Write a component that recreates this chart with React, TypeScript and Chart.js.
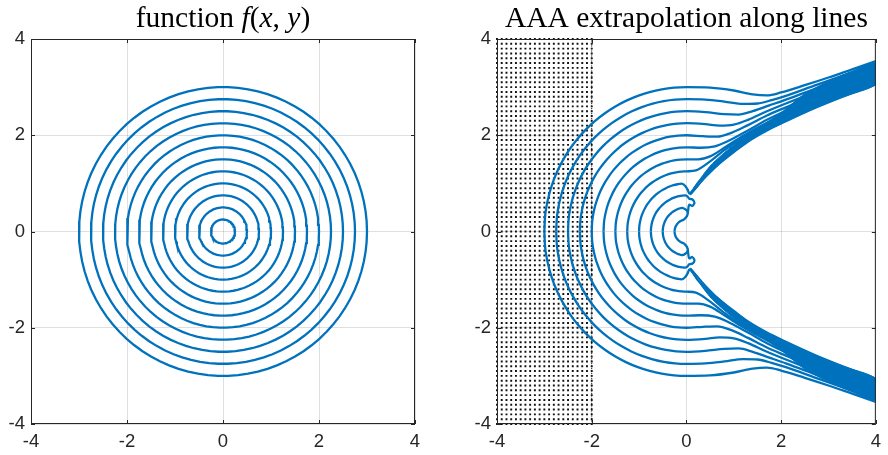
import React, { useEffect, useRef } from "react";
import { Chart, registerables } from "chart.js";
Chart.register(...registerables);

// ---------- data ----------
const TICKS = [-4, -2, 0, 2, 4];
// contour levels (circle radii) of f(x,y)
const LEVELS = [0.25, 0.5, 0.75, 1.0, 1.25, 1.5, 1.75, 2.0, 2.25, 2.5, 2.75, 3.0];

const LEFT_TITLE = [
  { t: "function ", i: false },
  { t: "f", i: true },
  { t: "(", i: false },
  { t: "x", i: true },
  { t: ", ", i: false },
  { t: "y", i: true },
  { t: ")", i: false },
];
const RIGHT_TITLE = [{ t: "AAA extrapolation along lines", i: false }];

// sample grid (dotted region)
const SAMPLE_X = [-4, -3.9, -3.8, -3.7, -3.6, -3.5, -3.4, -3.3, -3.2, -3.1, -3, -2.9, -2.8, -2.7, -2.6, -2.5, -2.4, -2.3, -2.2, -2.1, -2];
const SAMPLE_Y = [
  -4, -3.9, -3.8, -3.7, -3.6, -3.5, -3.4, -3.3, -3.2, -3.1, -3, -2.9, -2.8, -2.7, -2.6, -2.5, -2.4, -2.3, -2.2, -2.1,
  -2, -1.9, -1.8, -1.7, -1.6, -1.5, -1.4, -1.3, -1.2, -1.1, -1, -0.9, -0.8, -0.7, -0.6, -0.5, -0.4, -0.3, -0.2, -0.1,
  0, 0.1, 0.2, 0.3, 0.4, 0.5, 0.6, 0.7, 0.8, 0.9, 1, 1.1, 1.2, 1.3, 1.4, 1.5, 1.6, 1.7, 1.8, 1.9,
  2, 2.1, 2.2, 2.3, 2.4, 2.5, 2.6, 2.7, 2.8, 2.9, 3, 3.1, 3.2, 3.3, 3.4, 3.5, 3.6, 3.7, 3.8, 3.9, 4,
];

// right panel: upper-half continuations (x >= 0) of each extrapolated contour
const C_LINK = [[-0.02, 0.46], [0.03, 0.4], [0.01, 0.32], [-0.05, 0.25]];
const TAIL_075 = [[0.02, 0.73], [0.06, 0.68], [0.12, 0.67], [0.17, 0.6], [0.12, 0.53], [0.06, 0.56], [0.04, 0.47], [0.03, 0.38]];
const TAIL_100 = [[-0.02, 0.94], [0.03, 0.86], [0.06, 0.79], [0.25, 1.02], [0.5, 1.26], [0.7, 1.42], [1.0, 1.65], [1.3, 1.87], [1.7, 2.1], [2.1, 2.29], [2.7, 2.56], [3.3, 2.8], [4, 3.06]];
const SPIKE_1 = [[0.08, 0.76], [0.4, 1.12], [0.8, 1.5], [1.2, 1.8], [1.7, 2.12], [2.1, 2.31], [2.7, 2.58], [3.3, 2.82], [4, 3.08]];
const SPIKE_2 = [[0.1, 0.78], [0.5, 1.24], [0.9, 1.6], [1.3, 1.9], [1.7, 2.16], [2.1, 2.34], [2.7, 2.61], [3.3, 2.85], [4, 3.1]];
const TAIL_125 = [[0.2, 1.27], [0.45, 1.42], [0.8, 1.69], [1.2, 1.96], [1.7, 2.2], [2.1, 2.37], [2.7, 2.63], [3.3, 2.87], [4, 3.13]];
const TAIL_150 = [[0.25, 1.5], [0.5, 1.56], [0.8, 1.74], [1.2, 1.99], [1.7, 2.26], [2.1, 2.44], [2.7, 2.69], [3.3, 2.93], [4, 3.18]];
const TAIL_175 = [[0.3, 1.74], [0.6, 1.77], [0.9, 1.89], [1.3, 2.1], [1.7, 2.32], [2.1, 2.51], [2.7, 2.76], [3.3, 2.99], [4, 3.24]];
const TAIL_200 = [[0.35, 1.98], [0.65, 1.97], [0.95, 2.05], [1.3, 2.21], [1.7, 2.41], [2.1, 2.58], [2.7, 2.83], [3.3, 3.05], [4, 3.3]];
const TAIL_225 = [[0.4, 2.23], [0.7, 2.2], [1.0, 2.22], [1.3, 2.32], [1.7, 2.5], [2.1, 2.66], [2.7, 2.89], [3.3, 3.11], [4, 3.36]];
const TAIL_250 = [[0.4, 2.48], [0.8, 2.44], [1.1, 2.43], [1.4, 2.5], [1.75, 2.62], [2.1, 2.74], [2.7, 2.96], [3.3, 3.18], [4, 3.42]];
const TAIL_275 = [[0.4, 2.74], [0.8, 2.7], [1.2, 2.65], [1.5, 2.66], [1.8, 2.73], [2.1, 2.82], [2.7, 3.03], [3.3, 3.24], [4, 3.48]];
const TAIL_300 = [[0.5, 2.99], [1.0, 2.93], [1.4, 2.85], [1.7, 2.83], [2.0, 2.89], [2.5, 3.04], [3.0, 3.2], [3.5, 3.37], [4, 3.54]];
const TAILS: [number, number[][]][] = [
  [1.25, TAIL_125], [1.5, TAIL_150], [1.75, TAIL_175], [2.0, TAIL_200], [2.25, TAIL_225],
  [2.5, TAIL_250], [2.75, TAIL_275], [3.0, TAIL_300],
];
// solid part of the converged band (upper half): top edge out, lower edge back
const BAND_TOP = [[0.08, 0.8], [0.5, 1.36], [1.0, 1.8], [1.5, 2.14], [2.0, 2.47], [2.5, 2.86], [3.0, 3.12], [3.5, 3.33], [4, 3.5]];
const BAND_BOTTOM = [[4, 3.06], [3.3, 2.8], [2.7, 2.56], [2.1, 2.29], [1.7, 2.1], [1.3, 1.87], [1.0, 1.65], [0.7, 1.42], [0.5, 1.26], [0.25, 1.02], [0.08, 0.8]];

// ---------- styling ----------
const BLUE = "#0072BD";
const AXIS = "#262626";
const GRID = "rgba(38,38,38,0.15)";
const TICK_FONT = { family: "'Liberation Sans', Arial, sans-serif", size: 18.5 };

type P = { x: number; y: number };
function arc(r: number, a0: number, a1: number, step = 5): P[] {
  const pts: P[] = [];
  const n = Math.max(2, Math.ceil(Math.abs(a1 - a0) / step));
  for (let k = 0; k <= n; k++) {
    const a = ((a0 + ((a1 - a0) * k) / n) * Math.PI) / 180;
    pts.push({ x: r * Math.cos(a), y: r * Math.sin(a) });
  }
  return pts;
}
const toP = (arr: number[][]): P[] => arr.map(([x, y]) => ({ x, y }));
const mirror = (pts: P[]): P[] => pts.map((p) => ({ x: p.x, y: -p.y }));

function lineDs(data: P[], tension: number, monotone = false, width = 2.3) {
  return {
    data,
    showLine: true,
    borderColor: BLUE,
    borderWidth: width,
    pointRadius: 0,
    tension,
    cubicInterpolationMode: monotone ? "monotone" : "default",
    fill: false,
    clip: 0,
    order: 0,
  };
}

function bandDs(data: P[]) {
  return {
    data,
    showLine: true,
    borderColor: BLUE,
    borderWidth: 1,
    backgroundColor: BLUE,
    pointRadius: 0,
    tension: 0.25,
    fill: "shape",
    clip: 0,
    order: 0,
  };
}

function framePlugin(runs: { t: string; i: boolean }[], size: number) {
  return {
    id: "frame",
    afterDraw(chart: any) {
      const { ctx, chartArea: a, scales } = chart;
      ctx.save();
      ctx.strokeStyle = AXIS;
      ctx.lineWidth = 1;
      const tl = 4;
      ctx.beginPath();
      for (const v of TICKS) {
        const px = Math.round(scales.x.getPixelForValue(v)) + 0.5;
        const py = Math.round(scales.y.getPixelForValue(v)) + 0.5;
        ctx.moveTo(px, a.bottom); ctx.lineTo(px, a.bottom - tl);
        ctx.moveTo(px, a.top); ctx.lineTo(px, a.top + tl);
        ctx.moveTo(a.left, py); ctx.lineTo(a.left + tl, py);
        ctx.moveTo(a.right, py); ctx.lineTo(a.right - tl, py);
      }
      ctx.stroke();
      ctx.strokeRect(a.left + 0.5, a.top + 0.5, a.right - a.left - 1, a.bottom - a.top - 1);
      const fam = "'Liberation Serif', 'Times New Roman', serif";
      let total = 0;
      const widths = runs.map((r) => {
        ctx.font = `${r.i ? "italic " : ""}${size}px ${fam}`;
        const w = ctx.measureText(r.t).width;
        total += w;
        return w;
      });
      let x = (a.left + a.right) / 2 - total / 2;
      ctx.fillStyle = "#000";
      ctx.textBaseline = "alphabetic";
      ctx.textAlign = "left";
      runs.forEach((r, k) => {
        ctx.font = `${r.i ? "italic " : ""}${size}px ${fam}`;
        ctx.fillText(r.t, x, 27);
        x += widths[k];
      });
      ctx.restore();
    },
  };
}

function makeOptions(yAxisWidth: number, padRight: number) {
  const common = {
    type: "linear",
    min: -4,
    max: 4,
    afterBuildTicks: (s: any) => {
      s.ticks = TICKS.map((v) => ({ value: v }));
    },
    grid: { color: GRID, lineWidth: 1, drawTicks: false },
    border: { display: false },
    ticks: { color: AXIS, font: TICK_FONT, padding: 7 },
  };
  return {
    animation: false,
    responsive: false,
    maintainAspectRatio: false,
    events: [],
    layout: { padding: { left: 0, top: 39, right: padRight, bottom: 0 } },
    plugins: { legend: { display: false }, tooltip: { enabled: false }, title: { display: false } },
    scales: {
      x: { ...common, position: "bottom", afterFit: (s: any) => { s.height = 31; } },
      y: { ...common, position: "left", ticks: { ...common.ticks, padding: 6 }, afterFit: (s: any) => { s.width = yAxisWidth; } },
    },
  };
}

export default function App() {
  const leftRef = useRef<HTMLCanvasElement>(null);
  const rightRef = useRef<HTMLCanvasElement>(null);

  useEffect(() => {
    const leftSets = LEVELS.map((r) => lineDs(arc(r, 0, 360, 4), 0));
    const left = new Chart(leftRef.current as HTMLCanvasElement, {
      type: "scatter",
      data: { datasets: leftSets as any },
      options: makeOptions(31, 29) as any,
      plugins: [framePlugin(LEFT_TITLE, 29.5)],
    });

    const rightSets: any[] = [];
    const addPair = (u: P[], tension: number, monotone: boolean, width?: number) => {
      rightSets.push(lineDs(u, tension, monotone, width));
      rightSets.push(lineDs(mirror(u), tension, monotone, width));
    };
    addPair([...arc(0.5, 180, 100), ...toP(C_LINK), ...arc(0.25, 112, 180)], 0.3, false);
    addPair([...arc(0.75, 180, 92), ...toP(TAIL_075)], 0.3, false);
    addPair([...arc(1.0, 180, 96), ...toP(TAIL_100)], 0, true);
    addPair(toP(SPIKE_1), 0, true, 1.5);
    addPair(toP(SPIKE_2), 0, true, 1.5);
    for (const [r, tail] of TAILS) addPair([...arc(r, 180, 90), ...toP(tail)], 0, true);
    const bandUpper = [...toP(BAND_TOP), ...toP(BAND_BOTTOM)];
    rightSets.push(bandDs(bandUpper));
    rightSets.push(bandDs(mirror(bandUpper)));

    const dots: P[] = [];
    for (const sx of SAMPLE_X) for (const sy of SAMPLE_Y) dots.push({ x: sx, y: sy });
    rightSets.push({
      data: dots,
      showLine: false,
      pointStyle: "rect",
      pointRadius: 1.35,
      pointBackgroundColor: "#111",
      pointBorderWidth: 0,
      clip: 2,
      order: 2,
    });
    rightSets.push({
      data: [{ x: -2, y: -4 }, { x: -2, y: 4 }],
      showLine: true,
      borderColor: "#222",
      borderWidth: 1,
      borderDash: [1, 1.5],
      pointRadius: 0,
      order: 1,
    });
    const right = new Chart(rightRef.current as HTMLCanvasElement, {
      type: "scatter",
      data: { datasets: rightSets },
      options: makeOptions(53, 7) as any,
      plugins: [framePlugin(RIGHT_TITLE, 29.5)],
    });
    return () => {
      left.destroy();
      right.destroy();
    };
  }, []);

  return (
    <div style={{ position: "fixed", left: 0, top: 0, width: 888, height: 455, background: "#fff" }}>
      <canvas ref={leftRef} width={444} height={455} style={{ position: "absolute", left: 0, top: 0, width: 444, height: 455 }} />
      <canvas ref={rightRef} width={444} height={455} style={{ position: "absolute", left: 444, top: 0, width: 444, height: 455 }} />
    </div>
  );
}
